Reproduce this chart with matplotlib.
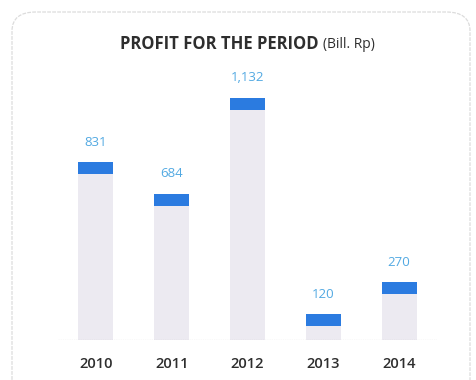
#!/usr/bin/env python3

import matplotlib
matplotlib.use("Agg")
import matplotlib.pyplot as plt
from matplotlib.patches import FancyBboxPatch


YEARS = ["2010", "2011", "2012", "2013", "2014"]
PROFIT = [831, 684, 1132, 120, 270]
VALUE_LABELS = ["831", "684", "1,132", "120", "270"]

BODY_COLOR = "#eceaf1"
CAP_COLOR = "#2b7be0"
LABEL_COLOR = "#52a9e2"
TEXT_COLOR = "#2e2e2e"

W, H = 477, 380


def main():
    fig = plt.figure(figsize=(W / 100, H / 100), dpi=100)
    fig.patch.set_facecolor("white")

    # rounded frame round the whole panel
    frame = FancyBboxPatch(
        (12 / W, -0.2), (458 / W), (H - 12) / H + 0.2,
        boxstyle="round,pad=0,rounding_size=0.05",
        transform=fig.transFigure, facecolor="none",
        edgecolor="#dcdcdc", linewidth=0.9, linestyle=(0, (3, 1)),
    )
    fig.patches.append(frame)

    ax = fig.add_axes([58 / W, 1 - 340 / H, 379 / W, 280 / H])
    ymax = 1310
    ax.set_xlim(-0.5, 4.5)
    ax.set_ylim(0, ymax)

    x = list(range(len(YEARS)))
    width = 0.46
    cap = 12 * ymax / 280  # cap is 12 px tall

    ax.bar(x, PROFIT, width, color=BODY_COLOR, zorder=2)
    ax.bar(x, [cap] * len(x), width, bottom=[v - cap for v in PROFIT],
           color=CAP_COLOR, zorder=3)

    for xi, v, lab in zip(x, PROFIT, VALUE_LABELS):
        ax.annotate(lab, (xi, v), xytext=(0, 14.5), textcoords="offset points",
                    ha="center", va="center", color=LABEL_COLOR,
                    fontsize=9.5, family="Open Sans")

    ax.axhline(0, color="#9a9a9a", linewidth=0.8, linestyle=(0, (1, 1)),
               zorder=4)

    for s in ax.spines.values():
        s.set_visible(False)
    ax.set_yticks([])
    ax.set_xticks(x)
    ax.set_xticklabels(YEARS, fontsize=10.5, color=TEXT_COLOR,
                       family="Open Sans", fontweight="semibold")
    ax.tick_params(axis="x", length=0, pad=12)

    fig.text(319 / W, 1 - 44 / H, "PROFIT FOR THE PERIOD", ha="right",
             va="center", fontsize=12, fontweight="bold", family="Open Sans",
             color=TEXT_COLOR)
    fig.text(323 / W, 1 - 44 / H, "(Bill. Rp)", ha="left", va="center",
             fontsize=10, family="Open Sans", color=TEXT_COLOR)

    fig.savefig("out.png", dpi=100)


if __name__ == "__main__":
    main()
